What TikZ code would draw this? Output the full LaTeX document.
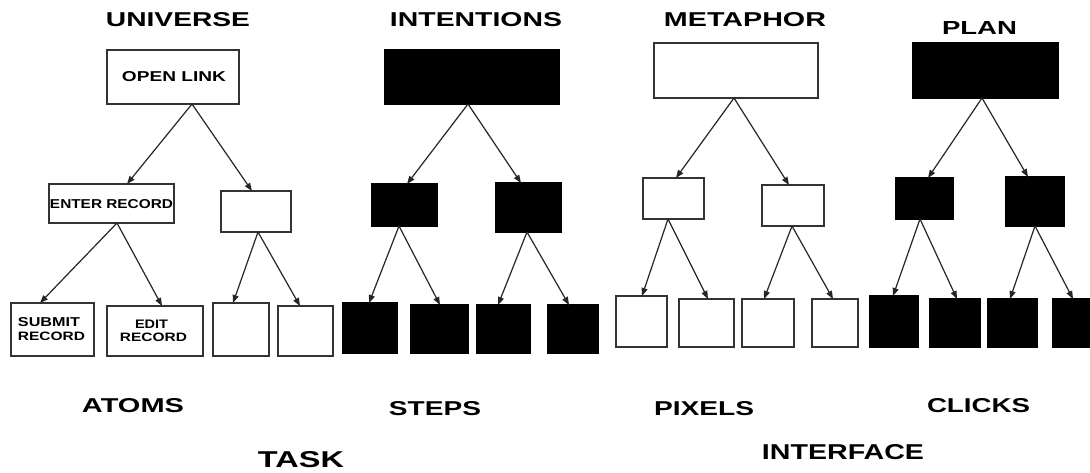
\documentclass[tikz,border=0pt]{standalone}
\usepackage{fontspec}
\setmainfont{Liberation Sans}
\usetikzlibrary{arrows.meta}
\newcommand{\lab}[3]{\resizebox{#1pt}{#2pt}{\bfseries #3}}
\newcommand{\bx}[6]{\node[#6, minimum width={#4-#2}, minimum height={#5-#3}] (#1) at ({(#2+#4)/2},{(#3+#5)/2}) {};}
\newcommand{\ar}[4]{\draw[conn] (#1.south -| #2,0) -- (#3.north -| #4,0);}
\begin{document}
\begin{tikzpicture}[x=1pt,y=-1pt,
  wbox/.style={draw=black!80, line width=1.2pt, fill=white, inner sep=0pt, outer sep=0pt},
  kbox/.style={draw=black, line width=1.2pt, fill=black, inner sep=0pt, outer sep=0pt},
  conn/.style={draw=black!85, line width=1.2pt, -{Triangle[length=8pt,width=6pt]}},
  txt/.style={inner sep=0pt, outer sep=0pt, text=black}]
\clip (0,0) rectangle (1090,472);
\fill[white] (0,0) rectangle (1090,472);
% titles
\node[txt] (tUni) at (178,20) {\lab{144}{14}{UNIVERSE}};
\node[txt] (tInt) at (476,20) {\lab{172}{14}{INTENTIONS}};
\node[txt] (tMet) at (745,20) {\lab{162}{14}{METAPHOR}};
\node[txt] (tPlan) at (979.5,27.5) {\lab{75}{13}{PLAN}};
% tree 1
\bx{a1}{107}{50}{239}{104}{wbox}
\bx{a2}{49}{184}{174}{223}{wbox}
\bx{a3}{221}{191}{291}{232}{wbox}
\bx{a4}{11}{303}{94}{356}{wbox}
\bx{a5}{107}{306}{203}{356}{wbox}
\bx{a6}{213}{303}{269}{356}{wbox}
\bx{a7}{278}{306}{333}{356}{wbox}
\node[txt] (l1) at (174,77) {\lab{104}{10}{OPEN LINK}};
\node[txt] (l2) at (111.5,204.5) {\lab{123}{9}{ENTER RECORD}};
\node[txt] (l3) at (49,322.5) {\lab{62}{9}{SUBMIT}};
\node[txt] (l4) at (51.5,336) {\lab{67}{8.5}{RECORD}};
\node[txt] (l5) at (151.5,324) {\lab{33}{8.5}{EDIT}};
\node[txt] (l6) at (153.5,337.5) {\lab{67}{8.5}{RECORD}};
\ar{a1}{192}{a2}{127}
\ar{a1}{192}{a3}{252}
\ar{a2}{117}{a4}{40}
\ar{a2}{117}{a5}{162}
\ar{a3}{258}{a6}{233}
\ar{a3}{258}{a7}{300}
% tree 2
\bx{b1}{385}{50}{559}{104}{kbox}
\bx{b2}{372}{184}{437}{226}{kbox}
\bx{b3}{496}{183}{561}{232}{kbox}
\bx{b4}{343}{303}{397}{353}{kbox}
\bx{b5}{411}{305}{468}{353}{kbox}
\bx{b6}{477}{305}{530}{353}{kbox}
\bx{b7}{548}{305}{598}{353}{kbox}
\ar{b1}{468}{b2}{407}
\ar{b1}{468}{b3}{521}
\ar{b2}{399}{b4}{369}
\ar{b2}{399}{b5}{440}
\ar{b3}{527}{b6}{498}
\ar{b3}{527}{b7}{569}
% tree 3
\bx{c1}{654}{43}{818}{98}{wbox}
\bx{c2}{643}{178}{704}{219}{wbox}
\bx{c3}{762}{185}{824}{226}{wbox}
\bx{c4}{616}{296}{667}{347}{wbox}
\bx{c5}{679}{299}{734}{347}{wbox}
\bx{c6}{742}{299}{794}{347}{wbox}
\bx{c7}{812}{299}{858}{347}{wbox}
\ar{c1}{734}{c2}{676}
\ar{c1}{734}{c3}{789}
\ar{c2}{668}{c4}{642}
\ar{c2}{668}{c5}{708}
\ar{c3}{792}{c6}{764}
\ar{c3}{792}{c7}{833}
% tree 4
\bx{d1}{913}{43}{1058}{98}{kbox}
\bx{d2}{896}{178}{953}{219}{kbox}
\bx{d3}{1006}{177}{1064}{226}{kbox}
\bx{d4}{870}{296}{918}{347}{kbox}
\bx{d5}{930}{299}{980}{347}{kbox}
\bx{d6}{988}{299}{1037}{347}{kbox}
\bx{d7}{1053}{299}{1100}{347}{kbox}
\ar{d1}{982}{d2}{928}
\ar{d1}{982}{d3}{1028}
\ar{d2}{920}{d4}{893}
\ar{d2}{920}{d5}{957}
\ar{d3}{1035}{d6}{1010}
\ar{d3}{1035}{d7}{1073}
% bottom labels
\node[txt] (bAtoms) at (133,406) {\lab{102}{14}{ATOMS}};
\node[txt] (bSteps) at (435,408.5) {\lab{92}{14}{STEPS}};
\node[txt] (bPixels) at (704,408.5) {\lab{100}{14}{PIXELS}};
\node[txt] (bClicks) at (978.5,406) {\lab{103}{14}{CLICKS}};
\node[txt] (bTask) at (301,459.5) {\lab{86}{16}{TASK}};
\node[txt] (bInter) at (843,452.5) {\lab{162}{15}{INTERFACE}};
\end{tikzpicture}
\end{document}
